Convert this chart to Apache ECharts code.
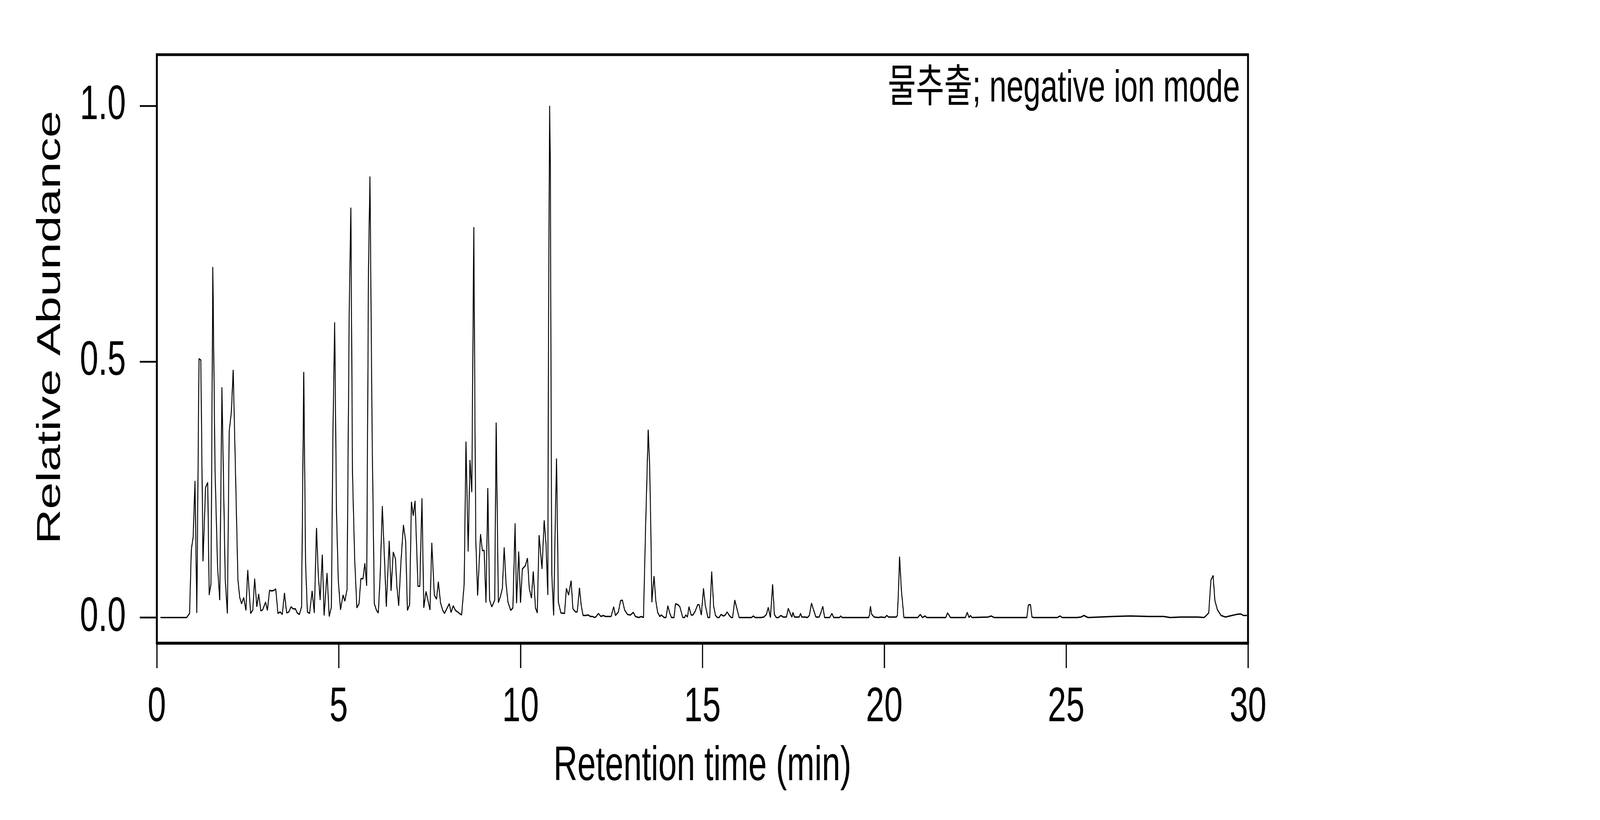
<!DOCTYPE html>
<html>
<head>
<meta charset="utf-8">
<title>Chromatogram</title>
<script src="https://cdn.jsdelivr.net/npm/echarts@6/dist/echarts.min.js"></script>
<style>
  html, body { margin: 0; padding: 0; background: #fff; overflow: hidden; }
  #chart { width: 6000px; height: 2100px; transform-origin: 0 0; }
</style>
</head>
<body>
<div id="chart"></div>
<script>
// retention time (min) and relative abundance
var retentionTime = [
  0.10, 0.82, 0.90, 0.95, 1.00, 1.05, 1.10, 1.16, 1.21, 1.27, 1.34, 1.40, 1.44, 1.49, 1.54, 1.60,
  1.67, 1.73, 1.79, 1.88, 1.94, 1.99, 2.05, 2.10, 2.23, 2.28, 2.33, 2.39, 2.45, 2.50, 2.58, 2.64,
  2.69, 2.75, 2.80, 2.86, 2.91, 2.99, 3.04, 3.10, 3.16, 3.22, 3.27, 3.33, 3.39, 3.45, 3.51, 3.57,
  3.63, 3.69, 3.75, 3.81, 3.86, 3.92, 3.98, 4.04, 4.09, 4.14, 4.20, 4.27, 4.33, 4.39, 4.44, 4.49,
  4.55, 4.60, 4.68, 4.74, 4.80, 4.84, 4.89, 4.94, 4.99, 5.05, 5.12, 5.17, 5.23, 5.29, 5.335, 5.38,
  5.44, 5.50, 5.56, 5.61, 5.67, 5.72, 5.77, 5.82, 5.86, 5.92, 5.98, 6.04, 6.09, 6.14, 6.20, 6.26,
  6.31, 6.39, 6.44, 6.50, 6.56, 6.60, 6.65, 6.71, 6.78, 6.84, 6.89, 6.95, 7.00, 7.05, 7.10, 7.18,
  7.23, 7.29, 7.34, 7.40, 7.46, 7.51, 7.56, 7.63, 7.69, 7.74, 7.80, 7.86, 7.91, 7.97, 8.04, 8.09,
  8.15, 8.21, 8.27, 8.32, 8.38, 8.45, 8.50, 8.56, 8.61, 8.66, 8.68, 8.715, 8.75, 8.77, 8.82, 8.90,
  8.95, 9.00, 9.05, 9.10, 9.15, 9.21, 9.29, 9.33, 9.39, 9.45, 9.50, 9.55, 9.60, 9.655, 9.73, 9.79,
  9.85, 9.89, 9.95, 10.00, 10.05, 10.13, 10.19, 10.24, 10.30, 10.35, 10.41, 10.46, 10.51, 10.59, 10.65, 10.70,
  10.75, 10.77, 10.80, 10.82, 10.84, 10.86, 10.91, 10.96, 10.99, 11.04, 11.11, 11.21, 11.26, 11.32, 11.39, 11.44,
  11.51, 11.56, 11.62, 11.67, 11.72, 11.78, 11.86, 11.92, 11.98, 12.04, 12.08, 12.14, 12.21, 12.27, 12.34, 12.40,
  12.49, 12.56, 12.61, 12.69, 12.75, 12.80, 12.86, 12.94, 13.02, 13.10, 13.16, 13.25, 13.32, 13.38, 13.44, 13.51,
  13.55, 13.58, 13.61, 13.67, 13.72, 13.77, 13.83, 13.87, 13.95, 14.00, 14.05, 14.10, 14.15, 14.22, 14.26, 14.33,
  14.38, 14.46, 14.51, 14.54, 14.59, 14.63, 14.69, 14.74, 14.80, 14.87, 14.91, 14.97, 15.03, 15.08, 15.15, 15.20,
  15.255, 15.31, 15.36, 15.41, 15.46, 15.51, 15.58, 15.63, 15.68, 15.74, 15.79, 15.83, 15.89, 16.01, 16.35, 16.40,
  16.45, 16.61, 16.69, 16.76, 16.81, 16.87, 16.93, 16.98, 17.03, 17.09, 17.16, 17.22, 17.31, 17.36, 17.42, 17.46,
  17.49, 17.53, 17.66, 17.70, 17.73, 17.82, 17.89, 17.94, 18.00, 18.06, 18.12, 18.21, 18.25, 18.31, 18.36, 18.50,
  18.56, 18.61, 18.77, 18.80, 18.84, 19.52, 19.57, 19.59, 19.62, 19.65, 19.72, 19.84, 19.91, 20.02, 20.07, 20.12,
  20.33, 20.36, 20.39, 20.42, 20.44, 20.47, 20.54, 20.92, 20.99, 21.05, 21.12, 21.17, 21.69, 21.74, 21.82, 22.23,
  22.28, 22.33, 22.37, 22.41, 22.86, 22.94, 23.02, 23.92, 23.96, 23.98, 24.02, 24.06, 24.10, 24.76, 24.83, 24.89,
  25.29, 25.41, 25.49, 25.60, 26.29, 26.76, 27.27, 27.68, 27.86, 28.15, 28.62, 28.79, 28.84, 28.92, 28.98, 29.04,
  29.09, 29.16, 29.26, 29.38, 29.50, 29.68, 29.80, 29.87, 29.97
]
var relAbundance = [
  0, 0, 0.008, 0.133, 0.158, 0.267, 0.009, 0.506, 0.503, 0.110, 0.254, 0.264, 0.044, 0.066, 0.685, 0.292,
  0.099, 0.034, 0.450, 0.076, 0.008, 0.364, 0.402, 0.484, 0.074, 0.039, 0.027, 0.039, 0.014, 0.093, 0.008, 0.015,
  0.076, 0.021, 0.046, 0.013, 0.015, 0.030, 0.014, 0.053, 0.052, 0.053, 0.056, 0.008, 0.011, 0.006, 0.048, 0.009,
  0.011, 0.021, 0.017, 0.017, 0.009, 0.006, 0.021, 0.480, 0.106, 0.011, 0.008, 0.052, 0.009, 0.175, 0.084, 0.034,
  0.123, 0.004, 0.087, 0.002, 0.021, 0.349, 0.577, 0.205, 0.072, 0.015, 0.044, 0.032, 0.055, 0.600, 0.801, 0.281,
  0.114, 0.019, 0.027, 0.076, 0.076, 0.106, 0.062, 0.683, 0.862, 0.357, 0.027, 0.014, 0.009, 0.080, 0.218, 0.114,
  0.021, 0.150, 0.052, 0.128, 0.115, 0.061, 0.023, 0.106, 0.181, 0.150, 0.014, 0.025, 0.226, 0.199, 0.228, 0.061,
  0.061, 0.233, 0.019, 0.051, 0.032, 0.015, 0.146, 0.044, 0.036, 0.070, 0.029, 0.014, 0.008, 0.017, 0.027, 0.010,
  0.023, 0.014, 0.011, 0.008, 0.005, 0.065, 0.344, 0.129, 0.308, 0.245, 0.433, 0.763, 0.357, 0.152, 0.043, 0.163,
  0.131, 0.131, 0.029, 0.253, 0.034, 0.021, 0.034, 0.381, 0.029, 0.042, 0.057, 0.137, 0.068, 0.030, 0.014, 0.019,
  0.184, 0.028, 0.129, 0.029, 0.095, 0.101, 0.116, 0.057, 0.038, 0.090, 0.019, 0.009, 0.161, 0.095, 0.190, 0.144,
  0.044, 0.592, 1.000, 0.881, 0.425, 0.084, 0.004, 0.205, 0.311, 0.030, 0.009, 0.008, 0.057, 0.044, 0.072, 0.017,
  0.011, 0.011, 0.058, 0.023, 0.004, 0.004, 0.005, 0.002, 0.002, 0, 0.002, 0.008, 0.002, 0.004, 0.002, 0.002,
  0.002, 0.021, 0.004, 0.011, 0.033, 0.034, 0.015, 0.006, 0.005, 0.010, 0.002, 0, 0.002, 0, 0.182, 0.367,
  0.296, 0.182, 0.030, 0.081, 0.032, 0.010, 0.002, 0.005, 0, 0, 0.023, 0.009, 0, 0, 0.027, 0.025,
  0.021, 0, 0, 0.005, 0.001, 0.021, 0.005, 0.005, 0.012, 0.025, 0.025, 0.005, 0.057, 0.024, 0, 0,
  0.090, 0.022, 0.004, 0, 0, 0.006, 0.003, 0.005, 0.011, 0.004, 0, 0, 0.034, 0, 0, 0.003,
  0, 0, 0.001, 0.006, 0.020, 0, 0.065, 0.006, 0, 0, 0.004, 0.001, 0.001, 0.018, 0.007, 0.001,
  0.010, 0.001, 0.001, 0.008, 0.001, 0.001, 0, 0.004, 0.028, 0.014, 0.001, 0.001, 0.008, 0.022, 0, 0,
  0.008, 0, 0, 0.003, 0, 0, 0, 0.004, 0.022, 0.007, 0.001, 0, 0.001, 0, 0.004, 0.001,
  0.001, 0.004, 0.051, 0.119, 0.093, 0.054, 0, 0, 0.006, 0, 0.003, 0, 0, 0.009, 0, 0,
  0.010, 0, 0.004, 0, 0.001, 0.003, 0, 0, 0.024, 0.025, 0.025, 0.001, 0, 0, 0.003, 0,
  0, 0.001, 0.004, 0, 0.002, 0.003, 0.002, 0.002, 0, 0.001, 0.001, 0, 0.003, 0.009, 0.073, 0.082,
  0.033, 0.015, 0.004, 0.001, 0.003, 0.006, 0.007, 0.004, 0.004
]
var xTicks = [0, 5, 10, 15, 20, 25, 30]
var yTicks = [0.0, 0.5, 1.0]
var label = '물추출; negative ion mode'

var font = '"Liberation Sans", Arial, "Noto Sans CJK KR", sans-serif'

// the chart is laid out on a 6000 x 2100 page; squeeze it into whatever window we get
var el = document.getElementById('chart')
var vw = document.documentElement.clientWidth || 6000
var vh = document.documentElement.clientHeight || 2100
el.style.transform = 'scale(' + (vw / 6000) + ',' + (vh / 2100) + ')'

var points = retentionTime.map(function (t, i) { return [t, relAbundance[i]] })

var myChart = echarts.init(el, null, { width: 6000, height: 2100 })

var option = {
  animation: false,
  backgroundColor: '#fff',
  title: {
    text: label,
    right: 1350,
    top: 171,
    padding: 0,
    textStyle: { fontFamily: font, fontSize: 115, fontWeight: 'normal', color: '#000' }
  },
  grid: {
    left: 588, right: 1320, top: 140, bottom: 453,
    show: true, borderColor: '#000', borderWidth: 7
  },
  xAxis: {
    type: 'value',
    min: xTicks[0],
    max: xTicks[xTicks.length - 1],
    interval: 5,
    name: 'Retention time (min)',
    nameLocation: 'middle',
    nameGap: 255,
    nameTextStyle: { fontFamily: font, fontSize: 124, color: '#000' },
    axisLine: { onZero: false, lineStyle: { color: '#000', width: 7 } },
    axisTick: { length: 64, lineStyle: { color: '#000', width: 4.5 } },
    axisLabel: { margin: 104, fontFamily: font, fontSize: 124, color: '#000' },
    splitLine: { show: false }
  },
  yAxis: {
    type: 'value',
    min: -0.05,
    max: 1.1,
    name: 'Relative Abundance',
    nameLocation: 'middle',
    nameGap: 335,
    nameTextStyle: { fontFamily: font, fontSize: 124, color: '#000', padding: [0, 0, 0, 110] },
    axisLine: { show: true, onZero: false, lineStyle: { color: '#000', width: 7 } },
    axisTick: { length: 64, customValues: yTicks, lineStyle: { color: '#000', width: 4.5 } },
    axisLabel: {
      margin: 116, fontFamily: font, fontSize: 124, color: '#000',
      customValues: yTicks,
      formatter: function (v) { return v.toFixed(1) }
    },
    splitLine: { show: false }
  },
  series: [{
    type: 'line',
    data: points,
    showSymbol: false,
    lineStyle: { color: '#000', width: 3.5 },
    z: 1
  }]
}

myChart.setOption(option)
</script>
</body>
</html>
